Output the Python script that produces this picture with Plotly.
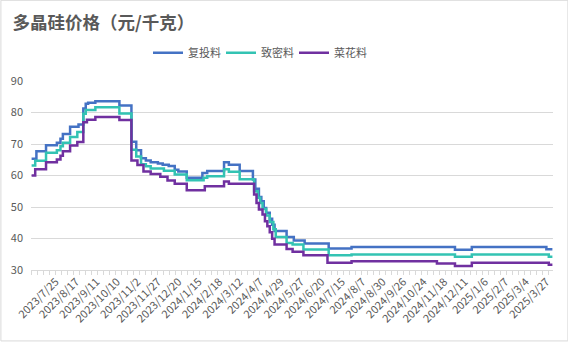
import plotly.graph_objects as go

# x positions are trading-day indices (one category per working day)
tick_labels = ["2023/7/25", "2023/8/17", "2023/9/11", "2023/10/10", "2023/11/2",
               "2023/11/27", "2023/12/20", "2024/1/15", "2024/2/18", "2024/3/12",
               "2024/4/7", "2024/4/29", "2024/5/27", "2024/6/20", "2024/7/15",
               "2024/8/7", "2024/8/30", "2024/9/26", "2024/10/24", "2024/11/18",
               "2024/12/11", "2025/1/6", "2025/2/7", "2025/3/4", "2025/3/27"]
label_step = 17
label_offset = 20
n_days = 434

# step series: index where the price changes, and the new price (元/千克)
fu_idx = [0, 4, 12, 21, 24, 26, 32, 39, 43, 45, 47, 53, 73, 83, 87, 91, 95, 99, 105, 109,
          114, 119, 122, 129, 142, 146, 160, 164, 173, 184, 186, 189, 191, 193, 195, 198,
          200, 202, 212, 218, 227, 247, 266, 352, 366, 428, 433]
fu_val = [65.3, 67.7, 69.6, 70.4, 71.7, 73.2, 75.5, 76.2, 81.3, 82.8, 83.1, 83.6, 82.2, 70.7,
          68.0, 65.5, 64.8, 64.2, 63.8, 63.4, 63.0, 61.8, 61.3, 59.3, 60.8, 61.4, 64.2, 63.4,
          61.4, 58.7, 55.8, 53.2, 51.8, 49.7, 48.2, 46.3, 44.4, 42.4, 40.5, 39.4, 38.4, 36.8,
          37.3, 36.4, 37.3, 36.6, 36.6]

zm_idx = [0, 3, 12, 21, 24, 26, 32, 38, 43, 45, 53, 73, 83, 87, 91, 95, 99, 110, 119, 129,
          143, 146, 160, 164, 173, 185, 188, 190, 192, 195, 198, 201, 203, 212, 217, 226,
          247, 266, 352, 366, 430, 433]
zm_val = [63.2, 64.7, 67.2, 68.0, 69.3, 70.4, 72.2, 73.8, 79.6, 80.8, 81.7, 79.7, 68.2, 66.0,
          63.6, 62.9, 62.2, 61.5, 60.3, 58.5, 59.3, 59.8, 62.0, 61.2, 58.8, 55.0, 52.9, 51.3,
          49.4, 47.3, 45.2, 42.9, 40.5, 38.6, 38.1, 36.5, 34.7, 34.9, 34.2, 34.9, 34.2, 34.2]

ch_idx = [0, 3, 12, 21, 24, 26, 32, 38, 43, 46, 53, 73, 83, 88, 93, 99, 107, 113, 119, 129,
          144, 160, 164, 185, 187, 189, 192, 194, 196, 198, 200, 202, 212, 217, 226, 246,
          266, 337, 352, 366, 430, 433]
ch_val = [60.0, 62.0, 64.2, 65.1, 66.3, 67.7, 69.5, 70.6, 76.9, 77.7, 78.6, 77.6, 64.8, 63.3,
          61.3, 60.5, 59.6, 58.4, 57.4, 55.3, 56.6, 58.1, 57.4, 54.0, 51.3, 49.2, 47.6, 45.5,
          43.9, 42.0, 39.9, 38.1, 36.7, 35.8, 34.7, 32.3, 32.8, 32.1, 31.3, 32.3, 31.7, 31.7]

series = [("复投料", fu_idx, fu_val, "#4472C4"),
          ("致密料", zm_idx, zm_val, "#33C3B3"),
          ("菜花料", ch_idx, ch_val, "#7030A0")]

W, H = 568, 342
L, R, T, B = 30.6, 15.4, 81.3, 71.5
pw, ph = W - L - R, H - T - B

font_cjk = "Noto Sans CJK SC, Microsoft YaHei, sans-serif"
grey_text = "#595959"
grid = "#d9d9d9"

fig = go.Figure()
for name, xs, ys, color in series:
    fig.add_trace(go.Scatter(x=xs, y=ys, name=name, mode="lines",
                             line=dict(color=color, width=2.5, shape="hv")))

fig.update_layout(
    width=W, height=H,
    margin=dict(l=L, r=R, t=T, b=B, autoexpand=False),
    paper_bgcolor="white", plot_bgcolor="white",
    font=dict(family=font_cjk, size=11, color=grey_text),
    title=dict(text="<b>多晶硅价格（元/千克）</b>", xref="container", yref="container",
               x=12.5 / W, y=1 - 23 / H, xanchor="left", yanchor="middle",
               font=dict(family=font_cjk, size=17.5, color=grey_text)),
    showlegend=True,
    legend=dict(orientation="h", xref="container", yref="container",
                x=148 / W, y=1 - 52.7 / H, xanchor="left", yanchor="middle",
                font=dict(size=11, color=grey_text), itemwidth=30,
                entrywidth=28, entrywidthmode="pixels", bgcolor="rgba(0,0,0,0)"),
    xaxis=dict(range=[-0.5, n_days - 0.5], showgrid=False, zeroline=False,
               showline=True, linecolor=grid, linewidth=1,
               tickmode="array",
               tickvals=[label_offset + label_step * i for i in range(len(tick_labels))],
               ticktext=tick_labels, ticks="", tickangle=-45,
               tickfont=dict(size=11, color=grey_text),
               minor=dict(tick0=-0.5, dtick=5, ticks="outside", ticklen=4,
                          tickcolor=grid, tickwidth=1, showgrid=False)),
    yaxis=dict(range=[30, 90], dtick=10, showgrid=True, gridcolor=grid, gridwidth=1,
               zeroline=False, showline=False, ticks="", ticklabelstandoff=7,
               tickfont=dict(size=11, color=grey_text)),
)

# chart-area border
fig.add_shape(type="rect", xref="paper", yref="paper",
              x0=(0.5 - L) / pw, x1=(W - 0.5 - L) / pw,
              y0=-(B - 0.5) / ph, y1=1 + (T - 0.5) / ph,
              line=dict(color=grid, width=1), fillcolor="rgba(0,0,0,0)", layer="below")

fig.write_html("out.html")
